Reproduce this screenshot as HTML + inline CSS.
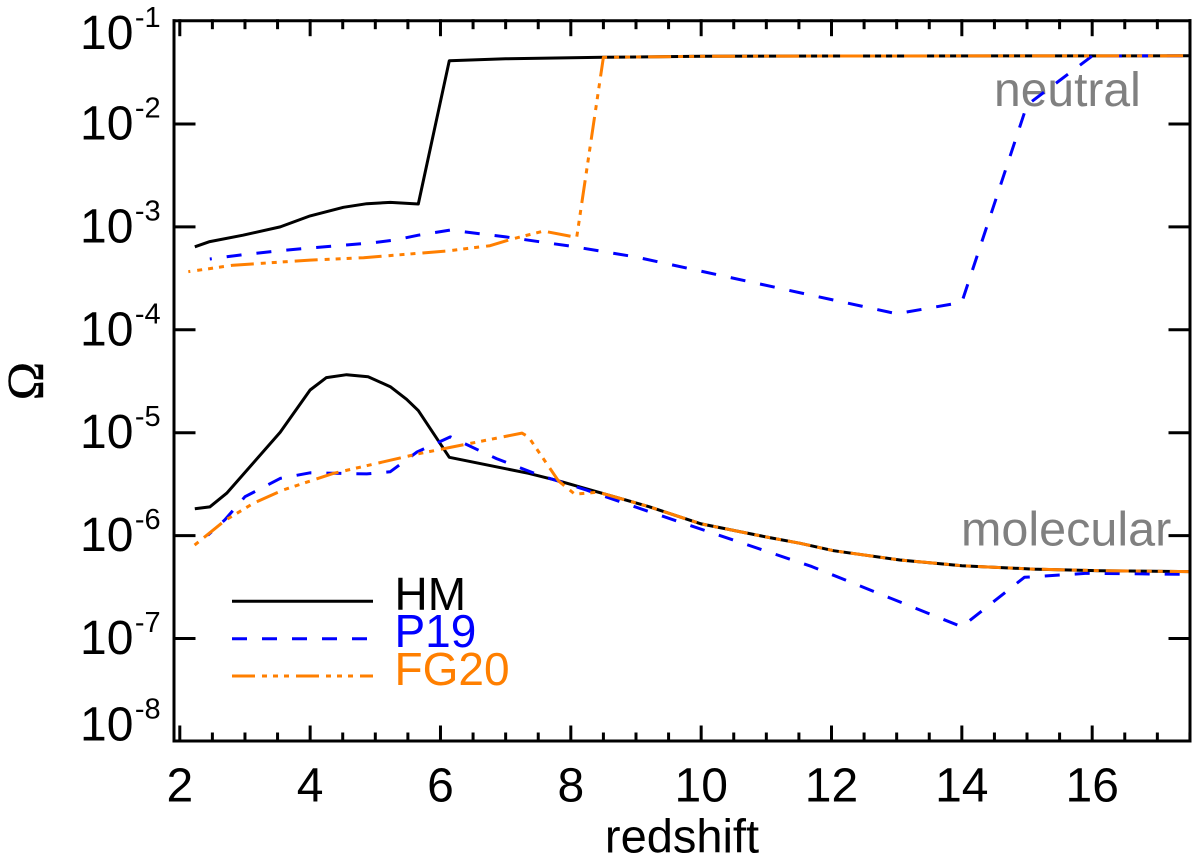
<!DOCTYPE html>
<html lang="en">
<head>
<meta charset="utf-8">
<title>Omega vs redshift</title>
<style>
html,body{margin:0;padding:0;background:#fff;}
svg{display:block;}
text{font-family:"Liberation Sans",Arial,sans-serif;}
</style>
</head>
<body>
<svg id="chart" xmlns="http://www.w3.org/2000/svg" width="1200" height="862" viewBox="0 0 1200 862">
  <rect width="1200" height="862" fill="#fff"/>
  <text x="994" y="106" font-size="48" fill="#808080">neutral</text>
  <text x="961" y="545.5" font-size="48.5" fill="#808080">molecular</text>
  <g id="series"></g>
  <g id="axes"></g>
  <g>
    <g>
      <line x1="232" y1="601.3" x2="373" y2="601.3" stroke="#000" stroke-width="3"/>
      <text x="394.5" y="610" font-size="46" fill="#000">HM</text>
    </g>
    <g>
      <line x1="232" y1="638.7" x2="373" y2="638.7" stroke="#0000ff" stroke-width="3" stroke-dasharray="15 15"/>
      <text x="394.5" y="647" font-size="46" fill="#0000ff">P19</text>
    </g>
    <g>
      <line x1="232" y1="676" x2="373" y2="676" stroke="#ff7f00" stroke-width="3" stroke-dasharray="23 7 5 6 5 6 5 7"/>
      <text x="394.5" y="685" font-size="46" fill="#ff7f00">FG20</text>
    </g>
  </g>
  <text x="682" y="852.5" font-size="47" text-anchor="middle" fill="#000">redshift</text>
  <text transform="translate(43,381) rotate(-90)" font-size="52" text-anchor="middle" fill="#000" stroke="#000" stroke-width="0.4" style="font-family:'Liberation Serif',serif">Ω</text>
</svg>
<script>
// Data
const hmNeutralZ = [2.23, 2.46, 2.97, 3.54, 4.0, 4.51, 4.87, 5.23, 5.66, 6.135, 7, 8.5, 10, 12, 17.5];
const hmNeutralOmega = [6.4e-4, 7.2e-4, 8.3e-4, 1.0e-3, 1.28e-3, 1.55e-3, 1.68e-3, 1.73e-3, 1.67e-3, 4.12e-2, 4.3e-2, 4.45e-2, 4.55e-2, 4.58e-2, 4.6e-2];

const p19NeutralZ = [2.46, 3.0, 3.54, 4.0, 5.0, 5.3, 5.66, 6.15, 7, 8, 9, 13, 14, 15, 16, 17.5];
const p19NeutralOmega = [4.88e-4, 5.4e-4, 5.87e-4, 6.24e-4, 7.05e-4, 7.46e-4, 8.3e-4, 9.3e-4, 8.0e-4, 6.5e-4, 5.1e-4, 1.43e-4, 1.85e-4, 1.53e-2, 4.58e-2, 4.6e-2];

const fg20NeutralZ = [2.13, 2.82, 3.08, 4.0, 4.82, 6.1, 6.76, 7.09, 7.58, 8.09, 8.5, 10, 12, 17.5];
const fg20NeutralOmega = [3.67e-4, 4.24e-4, 4.35e-4, 4.76e-4, 5.02e-4, 5.83e-4, 6.56e-4, 7.6e-4, 9.1e-4, 7.9e-4, 4.45e-2, 4.55e-2, 4.58e-2, 4.6e-2];

const hmMolecularZ = [2.23, 2.46, 2.72, 3.54, 4.0, 4.25, 4.56, 4.89, 5.23, 5.48, 5.66, 6.135, 7.35, 7.81, 9.2, 10, 11, 11.52, 12.03, 13.05, 14, 15.09, 16.12, 17.5];
const hmMolecularOmega = [1.82e-6, 1.9e-6, 2.58e-6, 1.01e-5, 2.6e-5, 3.43e-5, 3.66e-5, 3.5e-5, 2.8e-5, 2.11e-5, 1.64e-5, 5.77e-6, 4.03e-6, 3.41e-6, 1.91e-6, 1.3e-6, 9.7e-7, 8.41e-7, 7.13e-7, 5.79e-7, 5.1e-7, 4.73e-7, 4.56e-7, 4.47e-7];

const p19MolecularZ = [2.43, 2.69, 3.0, 3.54, 4.0, 4.87, 5.23, 5.64, 6.15, 6.86, 7.48, 8.24, 9.2, 11.7, 14, 14.96, 15.92, 17.5];
const p19MolecularOmega = [1.01e-6, 1.42e-6, 2.39e-6, 3.6e-6, 4.08e-6, 3.98e-6, 4.18e-6, 6.5e-6, 9.1e-6, 5.6e-6, 3.94e-6, 2.77e-6, 1.71e-6, 5.0e-7, 1.3e-7, 3.93e-7, 4.3e-7, 4.2e-7];

const fg20MolecularZ = [2.18, 2.69, 3.13, 3.58, 4.36, 5.64, 6.15, 7.25, 7.35, 7.81, 8.06, 8.42, 9.2, 10, 11, 11.52, 12.03, 13.05, 14, 15.09, 16.12, 17.5];
const fg20MolecularOmega = [7.64e-7, 1.4e-6, 2.06e-6, 2.77e-6, 4.03e-6, 6.2e-6, 7.2e-6, 9.9e-6, 9.1e-6, 3.41e-6, 2.53e-6, 2.64e-6, 1.91e-6, 1.3e-6, 9.7e-7, 8.41e-7, 7.13e-7, 5.79e-7, 5.1e-7, 4.73e-7, 4.56e-7, 4.47e-7];

const xTickLabels = [2, 4, 6, 8, 10, 12, 14, 16];
const xMinorStep = 0.5;
const yTickExponents = [-1, -2, -3, -4, -5, -6, -7, -8];

// Axis functions
function xScale(z) { return 179.8 + (z - 2) * 65.17; }
function yScale(omega) { return 124 + (-2 - Math.log10(omega)) * 102.9; }

const NS = 'http://www.w3.org/2000/svg';
const seriesGroup = document.getElementById('series');
const axesGroup = document.getElementById('axes');

function drawSeries(name, zs, omegas, color, dash, offset) {
  const el = document.createElementNS(NS, 'polyline');
  
  
  el.setAttribute('points', zs.map(function (z, i) {
    return xScale(z).toFixed(1) + ',' + yScale(omegas[i]).toFixed(1);
  }).join(' '));
  el.setAttribute('fill', 'none');
  el.setAttribute('stroke', color);
  el.setAttribute('stroke-width', '3');
  el.setAttribute('stroke-linejoin', 'round');
  if (dash) {
    el.setAttribute('stroke-dasharray', dash);
    el.setAttribute('stroke-dashoffset', offset);
  }
  seriesGroup.appendChild(el);
}

const P19_DASH = '15 15';
const FG20_DASH = '23 7 5 6 5 6 5 7';
drawSeries('hm-neutral-line', hmNeutralZ, hmNeutralOmega, '#000', '', 0);
drawSeries('hm-molecular-line', hmMolecularZ, hmMolecularOmega, '#000', '', 0);
drawSeries('p19-neutral-line', p19NeutralZ, p19NeutralOmega, '#0000ff', P19_DASH, 13);
drawSeries('p19-molecular-line', p19MolecularZ, p19MolecularOmega, '#0000ff', P19_DASH, 10);
drawSeries('fg20-neutral-line', fg20NeutralZ, fg20NeutralOmega, '#ff7f00', FG20_DASH, 21);
drawSeries('fg20-molecular-line', fg20MolecularZ, fg20MolecularOmega, '#ff7f00', FG20_DASH, 48);

const LEFT = 174, RIGHT = 1190, TOP = 20.7, BOTTOM = 741;

function axisLine(name, x1, y1, x2, y2) {
  const el = document.createElementNS(NS, 'line');
  
  
  el.setAttribute('x1', x1);
  el.setAttribute('y1', y1);
  el.setAttribute('x2', x2);
  el.setAttribute('y2', y2);
  el.setAttribute('stroke', '#000');
  el.setAttribute('stroke-width', '3');
  el.setAttribute('stroke-linecap', 'square');
  axesGroup.appendChild(el);
}

axisLine('plot-frame-left', LEFT, TOP, LEFT, BOTTOM);
axisLine('plot-frame-right', RIGHT, TOP, RIGHT, BOTTOM);
axisLine('plot-frame-top', LEFT, TOP, RIGHT, TOP);
axisLine('plot-frame-bottom', LEFT, BOTTOM, RIGHT, BOTTOM);

// X ticks (major + minor, bottom and top)
for (let z = 2; z <= 17.5; z += xMinorStep) {
  const major = xTickLabels.indexOf(z) >= 0;
  const len = major ? 14 : 7;
  const x = xScale(z);
  axisLine(major ? 'x-major-tick-bottom' : 'x-minor-tick-bottom', x, BOTTOM, x, BOTTOM - len);
  axisLine(major ? 'x-major-tick-top' : 'x-minor-tick-top', x, TOP, x, TOP + len);
}

xTickLabels.forEach(function (v) {
  const t = document.createElementNS(NS, 'text');
  
  
  t.setAttribute('x', xScale(v).toFixed(1));
  t.setAttribute('y', '801.5');
  t.setAttribute('font-size', '48');
  t.setAttribute('text-anchor', 'middle');
  t.setAttribute('fill', '#000');
  t.textContent = String(v);
  axesGroup.appendChild(t);
});

// Y ticks and labels
yTickExponents.forEach(function (exp) {
  const omega = Math.pow(10, exp);
  const y = yScale(omega);
  if (exp !== -1 && exp !== -8) {
    axisLine('y-major-tick-left', LEFT, y, LEFT + 20, y);
    axisLine('y-major-tick-right', RIGHT, y, RIGHT - 20, y);
  }
  // The outermost labels are nudged inward, as in the reference
  let baseline = y + 15.5;
  if (exp === -1) { baseline = y + 28; }
  if (exp === -8) { baseline = y - 1; }
  const t = document.createElementNS(NS, 'text');
  
  
  t.setAttribute('x', '80');
  t.setAttribute('y', baseline.toFixed(1));
  t.setAttribute('font-size', '48');
  t.setAttribute('fill', '#000');
  t.textContent = '10';
  const sup = document.createElementNS(NS, 'tspan');
  
  
  sup.setAttribute('dy', '-22');
  sup.setAttribute('dx', '1.5');
  sup.setAttribute('font-size', '29');
  sup.textContent = String(exp);
  t.appendChild(sup);
  axesGroup.appendChild(t);
});
</script>
</body>
</html>
